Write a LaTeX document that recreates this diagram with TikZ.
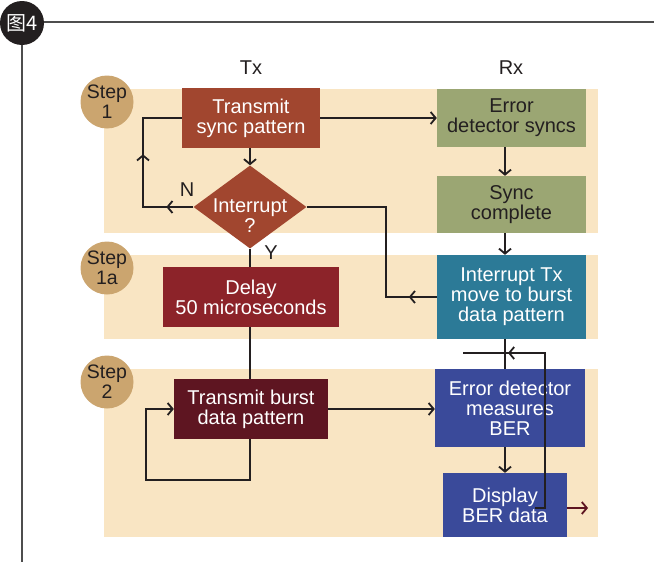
\documentclass[tikz,border=0pt]{standalone}
\usepackage{fontspec}
\setmainfont{Liberation Sans}
\newfontfamily\cjkfont{Noto Sans CJK SC}
\usetikzlibrary{shapes.geometric,arrows.meta,decorations.markings}

\definecolor{band}{HTML}{F9E5C3}
\definecolor{stepfill}{HTML}{CBA56F}
\definecolor{rust}{HTML}{A1462F}
\definecolor{olive}{HTML}{9BA673}
\definecolor{teal}{HTML}{2C7A97}
\definecolor{wine}{HTML}{8C2329}
\definecolor{maroon}{HTML}{5E1521}
\definecolor{indigo}{HTML}{3A4A9A}
\definecolor{ink}{HTML}{231F20}
\definecolor{frame}{HTML}{4D4D4D}

\begin{document}
\begin{tikzpicture}[x=1pt,y=-1pt,
  font=\fontsize{20}{20}\selectfont,
  box/.style={rectangle,inner sep=0pt,align=center,text=white},
  stepdot/.style={circle,fill=stepfill,minimum size=53pt,inner sep=0pt,align=center,text=ink,font=\fontsize{19.5}{20}\selectfont},
  conn/.style={draw=ink,line width=1.8pt},
  tip/.style={-{Straight Barb[length=5pt,width=12pt,line width=1.8pt]}},
  arrowat/.style={postaction={decorate,decoration={markings,
      mark=at position #1 with {\arrow{Straight Barb[length=5pt,width=12pt,line width=1.8pt]}}}}},
  lbl/.style={text=ink,inner sep=0pt}]
\useasboundingbox (0,0) rectangle (654,562);

% frame with the figure badge
\draw[frame,line width=1.5pt] (43,22) -- (654,22);
\draw[frame,line width=1.5pt] (22,44) -- (22,562);
\node[circle,fill=ink,minimum size=44pt,inner sep=0pt,text=white,
      font=\fontsize{20}{20}\selectfont] (badge) at (22,23) {\cjkfont 图4};

% step bands
\fill[band] (104,89) rectangle (598,233);
\fill[band] (104,255) rectangle (598,339);
\fill[band] (104,369) rectangle (598,537);

\node[stepdot] (s1) at (107,102) {Step\\1};
\node[stepdot] (s1a) at (107,268) {Step\\1a};
\node[stepdot] (s2) at (107,382) {Step\\2};

% column headings
\node[lbl] (tx) at (251,68) {Tx};
\node[lbl] (rx) at (511,68) {Rx};

% transmitter side
\node[box,fill=rust,minimum width=138pt,minimum height=60pt] (tsync) at (251,118) {Transmit\\sync pattern};
\node[diamond,fill=rust,minimum width=113pt,minimum height=83pt,inner sep=0pt] (dia) at (250,207) {};
\node[box] (diatext) at (250,216) {Interrupt\\?};
\node[box,fill=wine,minimum width=176pt,minimum height=60pt] (delay) at (251,297) {Delay\\50 microseconds};
\node[box,fill=maroon,minimum width=154pt,minimum height=60pt] (tburst) at (251,409) {Transmit burst\\data pattern};

% receiver side
\node[box,fill=olive,text=ink,minimum width=149pt,minimum height=58pt] (eds) at (511.5,118) {Error\\detector syncs};
\node[box,fill=olive,text=ink,minimum width=149pt,minimum height=57pt] (sc) at (511.5,204.5) {Sync\\complete};
\node[box,fill=teal,minimum width=149pt,minimum height=84pt] (itx) at (511.5,297) {Interrupt Tx\\move to burst\\data pattern};
\node[box,fill=indigo,minimum width=150pt,minimum height=78pt] (edm) at (510,408) {Error detector\\measures\\BER};
\node[box,fill=indigo,minimum width=124pt,minimum height=64pt] (disp) at (505,505) {Display\\BER data};

\node[lbl] (nlab) at (187,190) {N};
\node[lbl] (ylab) at (271,253) {Y};

% helper points
\coordinate (rxcol) at (505,0);
\coordinate (nloop) at (143,0);
\coordinate (iloop) at (386,0);
\coordinate (bloop) at (146,480);
\coordinate (fbtop) at (463,353);
\coordinate (fbright) at (545,508);
\coordinate (fbstart) at (535,508);
\coordinate (outend) at (588,508);

% transmitter flow
\draw[conn,tip] (tsync.east) -- (eds.west);
\draw[conn,tip] (tsync.south -| dia.north) -- (dia.north);
\draw[conn,arrowat=27pt,arrowat=103pt] (dia.west) -- (nloop |- dia.west) -- (nloop |- tsync.west) -- (tsync.west);
\draw[conn] (dia.south) -- (dia.south |- delay.north);
\draw[conn] (dia.south |- delay.south) -- (dia.south |- tburst.north);
\draw[conn,tip] (dia.south |- tburst.south) -- (dia.south |- bloop) -- (bloop) -- (bloop |- tburst.west) -- (tburst.west);
\draw[conn,tip] (tburst.east) -- (tburst.east -| edm.west);

% receiver flow
\draw[conn,tip] (eds.south -| rxcol) -- (sc.north -| rxcol);
\draw[conn,tip] (sc.south -| rxcol) -- (itx.north -| rxcol);
\draw[conn,arrowat=28pt] (itx.west) -- (iloop |- itx.west) -- (iloop |- dia.east) -- (dia.east);
\draw[conn] (itx.south -| rxcol) -- (edm.north -| rxcol);
\draw[conn,arrowat=202pt] (fbstart) -- (fbright) -- (fbright |- fbtop) -- (fbtop);
\draw[conn,tip] (edm.south -| rxcol) -- (disp.north -| rxcol);
\draw[conn,draw=maroon,tip] (disp.east |- fbright) -- (outend);
\end{tikzpicture}
\end{document}
